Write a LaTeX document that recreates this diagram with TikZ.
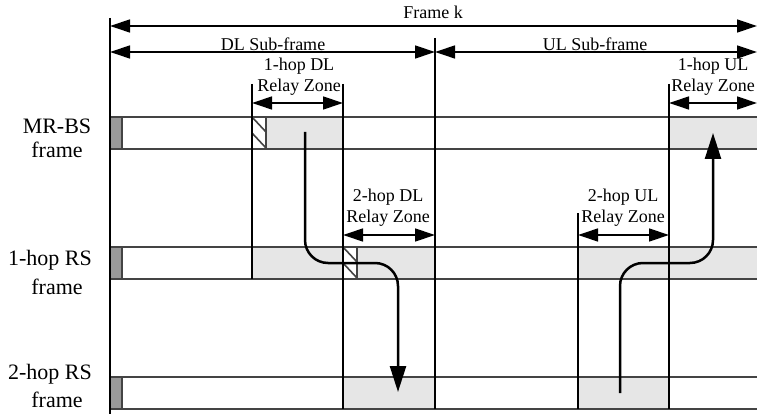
\documentclass[tikz,border=0pt]{standalone}
\usepackage{fontspec}
\setmainfont{Liberation Serif}
\usetikzlibrary{arrows.meta}
\definecolor{frzone}{HTML}{E6E6E6}
\definecolor{frhead}{HTML}{9A9A9A}
\definecolor{frrule}{HTML}{444444}
\newcommand{\frrow}[1]{% #1 = top of the row
  \fill[frhead] (110,#1) rectangle (122,#1+32);
  \draw[frrule, line width=1.4pt] (122,#1) -- (122,#1+32);
  \draw[frrule, line width=1.4pt] (110,#1) -- (757,#1) (110,#1+32) -- (757,#1+32);}
\newcommand{\frhatch}[2]{% #1 = left, #2 = top
  \fill[white] (#1,#2) rectangle ++(14,32);
  \begin{scope}
    \clip (#1,#2) rectangle ++(14,32);
    \foreach \k in {0,16}
      \draw[frrule, line width=1.6pt] (#1,#2+\k) -- ++(14,15);
  \end{scope}
  \draw[frrule, line width=1.4pt] (#1+14,#2) -- ++(0,32);}

\begin{document}
\begin{tikzpicture}[x=1pt, y=-1pt,
    zone/.style={fill=frzone},
    grid/.style={black, line width=1.5pt},
    dim/.style={black, line width=1.3pt,
      {Triangle[length=20pt,width=13pt]}-{Triangle[length=20pt,width=13pt]}},
    flow/.style={black, line width=2.5pt, rounded corners=23pt,
      -{Triangle[length=26pt,width=16pt]}},
    txt/.style={font=\fontsize{18}{21}\selectfont, inner sep=0pt, align=center},
    rowtxt/.style={font=\fontsize{22}{24}\selectfont, inner sep=0pt}]
  \useasboundingbox (0,0) rectangle (757,414);

  % relay zones
  \fill[zone] (266,117) rectangle (343,149);
  \fill[zone] (669,117) rectangle (757,149);
  \fill[zone] (252,247) rectangle (435,279);
  \fill[zone] (578,247) rectangle (757,279);
  \fill[zone] (343,377) rectangle (435,409);
  \fill[zone] (578,377) rectangle (669,409);
  \frhatch{252}{117}
  \frhatch{343}{247}
  \frrow{117} \frrow{247} \frrow{377}

  % boundaries
  \foreach \gx/\gt/\gb in {110/18/414, 435/38/409, 252/84/279,
                           343/84/409, 578/213/409, 669/84/409}
    \draw[grid] (\gx,\gt) -- (\gx,\gb);

  % spans
  \coordinate (fk-l) at (110,26);  \coordinate (fk-r) at (757,26);
  \coordinate (dl-l) at (110,52);  \coordinate (dl-r) at (435,52);
  \coordinate (ul-r) at (757,52);
  \coordinate (z1d-l) at (252,103); \coordinate (z1d-r) at (343,103);
  \coordinate (z1u-l) at (669,103); \coordinate (z1u-r) at (757,103);
  \coordinate (z2d-l) at (343,235); \coordinate (z2d-r) at (435,235);
  \coordinate (z2u-l) at (578,235); \coordinate (z2u-r) at (669,235);
  \draw[dim] (fk-l) -- (fk-r);
  \draw[dim] (dl-l) -- (dl-r);
  \draw[dim] (dl-r) -- (ul-r);
  \draw[dim] (z1d-l) -- (z1d-r);
  \draw[dim] (z1u-l) -- (z1u-r);
  \draw[dim] (z2d-l) -- (z2d-r);
  \draw[dim] (z2u-l) -- (z2u-r);

  \node[txt] (fk)    at (433,12)  {Frame k};
  \node[txt] (dlsub) at (273,44)  {DL Sub-frame};
  \node[txt] (ulsub) at (595,44)  {UL Sub-frame};
  \node[txt] (z1d)   at (299,77)  {1-hop DL\\Relay Zone};
  \node[txt] (z1u)   at (713,77)  {1-hop UL\\Relay Zone};
  \node[txt] (z2d)   at (388,208) {2-hop DL\\Relay Zone};
  \node[txt] (z2u)   at (623,208) {2-hop UL\\Relay Zone};

  % row labels
  \node[rowtxt] (bs1) at (57,126) {MR-BS};
  \node[rowtxt] (bs2) at (57,150) {frame};
  \node[rowtxt] (rs1) at (50,260) {1-hop RS};
  \node[rowtxt] (rs2) at (57,287) {frame};
  \node[rowtxt] (ms1) at (50,374) {2-hop RS};
  \node[rowtxt] (ms2) at (57,400) {frame};

  % relayed bursts
  \coordinate (dl-src) at (305,132); \coordinate (dl-mid) at (398,263);
  \coordinate (dl-dst) at (398,392);
  \coordinate (ul-src) at (620,393); \coordinate (ul-mid) at (713,263);
  \coordinate (ul-dst) at (713,133);
  \draw[flow] (dl-src) |- (dl-mid) -- (dl-dst);
  \draw[flow] (ul-src) |- (ul-mid) -- (ul-dst);
\end{tikzpicture}
\end{document}
